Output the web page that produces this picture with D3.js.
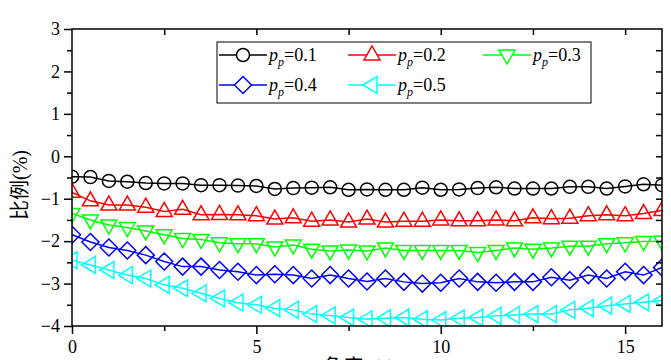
<!DOCTYPE html>
<html>
<head>
<meta charset="utf-8">
<script src="https://cdn.jsdelivr.net/npm/d3@7/dist/d3.min.js"></script>
<style>
  body { margin: 0; background: #fff; }
  svg { display: block; }
  text { font-family: "Liberation Serif", "Times New Roman", serif; fill: #000; }
</style>
</head>
<body>
<div id="chart"></div>
<script>
var width = 671,
    height = 360;

const margin = { top: 29, right: 9, bottom: 34, left: 72 };

// angle values shared by all series
const xs = [0, 0.5, 1, 1.5, 2, 2.5, 3, 3.5, 4, 4.5, 5, 5.5, 6, 6.5, 7, 7.5, 8,
            8.5, 9, 9.5, 10, 10.5, 11, 11.5, 12, 12.5, 13, 13.5, 14, 14.5, 15, 15.5, 16];

const p01 = [-0.48, -0.49, -0.58, -0.60, -0.63, -0.64, -0.64, -0.68, -0.68, -0.69, -0.70,
             -0.77, -0.75, -0.74, -0.73, -0.79, -0.78, -0.79, -0.79, -0.74, -0.79, -0.78,
             -0.75, -0.73, -0.76, -0.76, -0.76, -0.72, -0.72, -0.76, -0.71, -0.66, -0.68];
const p02 = [-0.85, -1.05, -1.15, -1.15, -1.20, -1.30, -1.25, -1.38, -1.37, -1.38, -1.40,
             -1.48, -1.45, -1.53, -1.50, -1.55, -1.48, -1.55, -1.53, -1.53, -1.50, -1.52,
             -1.52, -1.50, -1.52, -1.45, -1.47, -1.46, -1.40, -1.38, -1.40, -1.35, -1.28];
const p03 = [-1.35, -1.50, -1.62, -1.68, -1.76, -1.85, -1.94, -1.96, -2.04, -2.06, -2.06,
             -2.14, -2.09, -2.19, -2.23, -2.21, -2.23, -2.16, -2.22, -2.22, -2.22, -2.22,
             -2.27, -2.22, -2.16, -2.19, -2.16, -2.12, -2.12, -2.06, -2.04, -2.01, -2.00];
const p04 = [-1.85, -2.02, -2.15, -2.22, -2.33, -2.48, -2.60, -2.60, -2.68, -2.72, -2.80,
             -2.78, -2.80, -2.88, -2.80, -2.88, -2.95, -2.88, -2.96, -3.00, -2.98, -2.88,
             -2.96, -2.98, -2.96, -2.96, -2.85, -2.92, -2.80, -2.88, -2.72, -2.80, -2.62];
const p05 = [-2.45, -2.56, -2.68, -2.80, -2.88, -3.03, -3.11, -3.23, -3.35, -3.45, -3.50,
             -3.58, -3.62, -3.72, -3.75, -3.80, -3.84, -3.82, -3.80, -3.84, -3.86, -3.82,
             -3.80, -3.76, -3.74, -3.72, -3.72, -3.62, -3.58, -3.52, -3.48, -3.44, -3.40];

const seriesNames = ['0.1', '0.2', '0.3', '0.4', '0.5'];
const seriesValues = [p01, p02, p03, p04, p05];
const seriesColors = ['#000000', '#ff0000', '#00ff00', '#0000ff', '#00ffff'];
const seriesShapes = ['circle', 'up', 'down', 'diamond', 'left'];

const xTicks = [0, 5, 10, 15];
const yTicks = [-4, -3, -2, -1, 0, 1, 2, 3];

const w = width - margin.left - margin.right,
      h = height - margin.top - margin.bottom;

var x = d3.scaleLinear().domain([0, 16]).range([0, w]);
var y = d3.scaleLinear().domain([-4, 3]).range([h, 0]);

function shapePath(s) {
    if (s === 'circle') return d3.symbol().type(d3.symbolCircle).size(Math.PI * 6.5 * 6.5)();
    if (s === 'up') return 'M0,-9L8,5L-8,5Z';
    if (s === 'down') return 'M0,9L8,-5L-8,-5Z';
    if (s === 'left') return 'M-9,0L5,-8.5L5,8.5Z';
    return 'M0,-8.5L8.5,0L0,8.5L-8.5,0Z';
}

var svg = d3.select('#chart').append('svg')
    .attr('width', width)
    .attr('height', height);

var g = svg.append('g')
    .attr('transform', `translate(${margin.left},${margin.top})`);

svg.append('defs').append('clipPath')
    .attr('id', 'clip')
    .append('rect')
    .attr('width', w)
    .attr('height', h);

// series
const line = d3.line()
    .x((d, i) => x(xs[i]))
    .y(d => y(d));

var plot = g.append('g').attr('clip-path', 'url(#clip)');

seriesValues.forEach((vals, k) => {
    plot.append('path')
        .datum(vals)
        .attr('fill', 'none')
        .attr('stroke', seriesColors[k])
        .attr('stroke-width', 1.5)
        .attr('d', line);

    plot.selectAll('.m' + k)
        .data(vals)
        .enter()
        .append('path')
        .attr('class', 'm' + k)
        .attr('transform', (d, i) => `translate(${x(xs[i])},${y(d)})`)
        .attr('d', shapePath(seriesShapes[k]))
        .attr('fill', 'none')
        .attr('stroke', seriesColors[k])
        .attr('stroke-width', 1.5);
});

// axes
var xAxis = g.append('g')
    .attr('transform', `translate(0,${h})`)
    .call(d3.axisBottom(x).tickValues(xTicks).tickSize(8).tickSizeOuter(0).tickPadding(6).tickFormat(d3.format('d')));
var xMinor = g.append('g')
    .attr('transform', `translate(0,${h})`)
    .call(d3.axisBottom(x).tickValues([2.5, 7.5, 12.5]).tickSize(5).tickSizeOuter(0).tickFormat(''));

var yAxis = g.append('g')
    .call(d3.axisLeft(y).tickValues(yTicks).tickSize(8).tickSizeOuter(0).tickPadding(4).tickFormat(d3.format('d')));
var yMinor = g.append('g')
    .call(d3.axisLeft(y).tickValues(d3.range(-3.5, 3, 1)).tickSize(5).tickSizeOuter(0).tickFormat(''));

var xTop = g.append('g')
    .call(d3.axisBottom(x).tickValues([2.5, 5, 7.5, 10, 12.5, 15]).tickSize(6).tickSizeOuter(0).tickFormat(''));
var yRight = g.append('g')
    .attr('transform', `translate(${w},0)`)
    .call(d3.axisLeft(y).tickValues(d3.range(-3.5, 3, 0.5)).tickSize(6).tickSizeOuter(0).tickFormat(''));

[xAxis, xMinor, yAxis, yMinor, xTop, yRight].forEach(a => {
    a.selectAll('.domain').remove();
    a.selectAll('line').attr('stroke', '#000').attr('stroke-width', 1.5);
});
[xAxis, yAxis].forEach(a => {
    a.selectAll('text')
        .style('font-family', '"Liberation Serif", "Times New Roman", serif')
        .style('font-size', '18px');
});

g.append('rect')
    .attr('width', w)
    .attr('height', h)
    .attr('fill', 'none')
    .attr('stroke', '#000')
    .attr('stroke-width', 1.5);

// axis titles
svg.append('text')
    .attr('transform', 'translate(27,185) rotate(-90)')
    .attr('text-anchor', 'middle')
    .style('font-family', '"Liberation Serif", "Noto Sans CJK SC", serif')
    .style('font-size', '20px')
    .text('比例(%)');

svg.append('text')
    .attr('x', 323)
    .attr('y', 374)
    .style('font-family', '"Liberation Serif", "Noto Sans CJK SC", serif')
    .style('font-size', '20px')
    .text('角度 /(°)');

// legend
var legend = svg.append('g').attr('transform', 'translate(217,42)');
legend.append('rect')
    .attr('width', 374)
    .attr('height', 61)
    .attr('fill', '#fff')
    .attr('stroke', '#000')
    .attr('stroke-width', 1);

const legendPos = [[26, 13], [155, 13], [290, 13], [26, 43], [155, 43]];

seriesNames.forEach((name, k) => {
    const item = legend.append('g')
        .attr('transform', `translate(${legendPos[k][0]},${legendPos[k][1]})`);
    item.append('line')
        .attr('x1', -24).attr('x2', 24)
        .attr('stroke', seriesColors[k])
        .attr('stroke-width', 1.5);
    item.append('path')
        .attr('d', shapePath(seriesShapes[k]))
        .attr('fill', '#fff')
        .attr('stroke', seriesColors[k])
        .attr('stroke-width', 1.5);
    const t = item.append('text')
        .attr('x', 26)
        .attr('y', 6)
        .style('font-size', '18px');
    t.append('tspan').style('font-style', 'italic').text('p');
    t.append('tspan').style('font-style', 'italic').style('font-size', '12px').attr('dy', 5).text('p');
    t.append('tspan').attr('dy', -5).text('=' + name);
});
</script>
</body>
</html>
